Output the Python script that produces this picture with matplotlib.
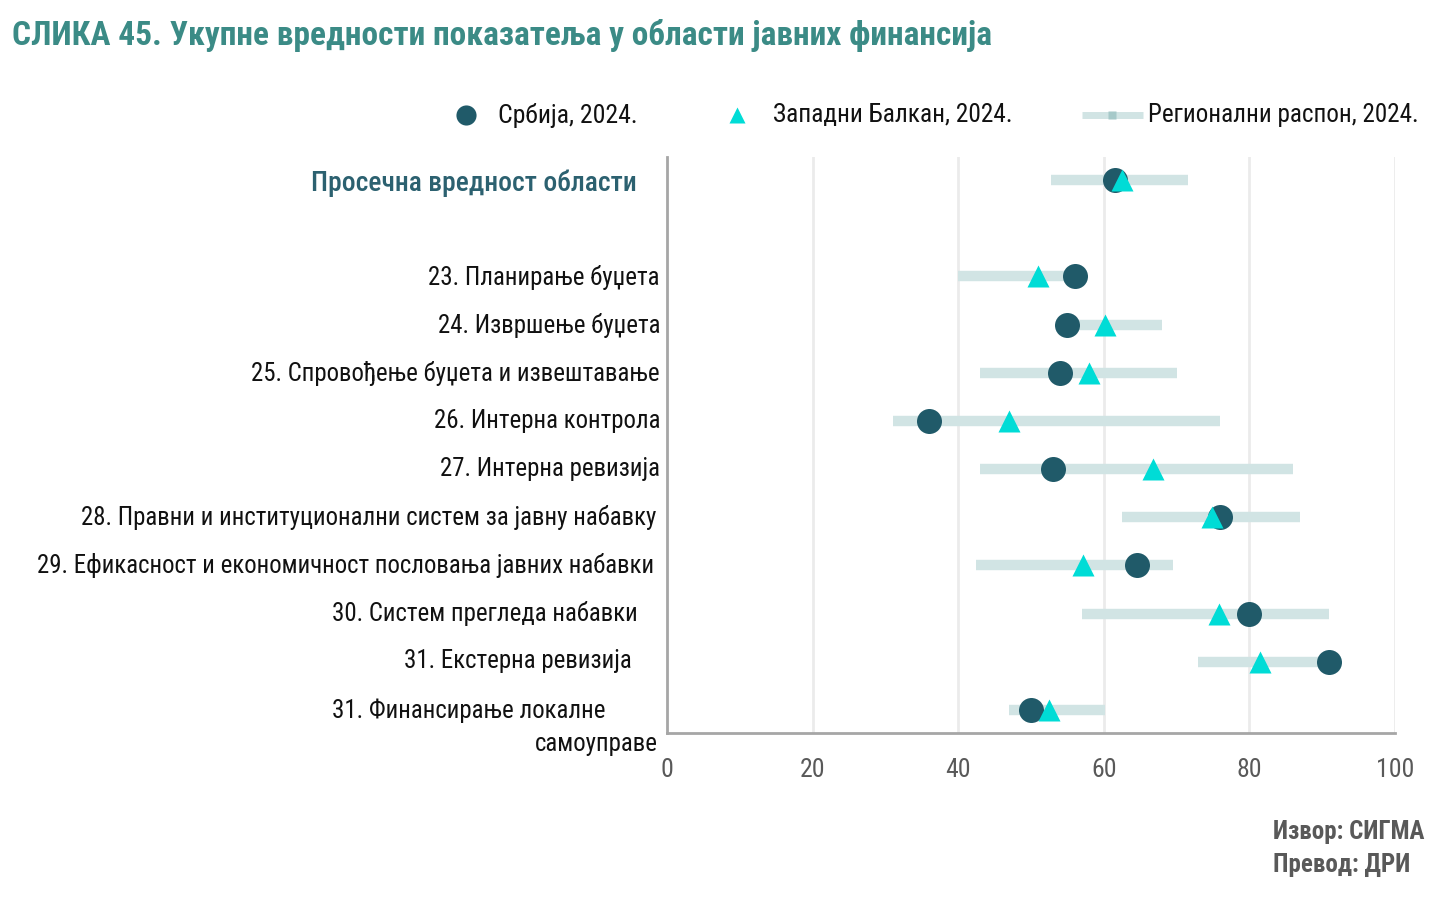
import matplotlib
matplotlib.use("Agg")
import matplotlib.pyplot as plt
from matplotlib import font_manager
from matplotlib.lines import Line2D

names = {f.name for f in font_manager.fontManager.ttflist}
FONT = None
for cand in ["Liberation Sans Narrow", "Roboto Condensed", "Open Sans Condensed", "DejaVu Sans Condensed", "Liberation Sans"]:
    if cand in names:
        FONT = cand
        break
plt.rcParams['font.family'] = [FONT, 'DejaVu Sans']

# ---------------- data ----------------
categories = [
    "23. Планирање буџета",
    "24. Извршење буџета",
    "25. Спровођење буџета и извештавање",
    "26. Интерна контрола",
    "27. Интерна ревизија",
    "28. Правни и институционални систем за јавну набавку",
    "29. Ефикасност и економичност пословања јавних набавки",
    "30. Систем прегледа набавки",
    "31. Екстерна ревизија",
    "31. Финансирање локалне\nсамоуправе",
]
avg_label = "Просечна вредност области"

serbia = [56.0, 55.0, 54.0, 36.0, 53.0, 76.0, 64.5, 80.0, 91.0, 50.0]
western_balkans = [51.0, 60.2, 58.0, 47.0, 66.8, 74.8, 57.2, 75.8, 81.5, 52.5]
range_min = [40.0, 55.0, 43.0, 31.0, 43.0, 62.5, 42.5, 57.0, 73.0, 47.0]
range_max = [55.5, 68.0, 70.0, 76.0, 86.0, 87.0, 69.5, 91.0, 90.0, 60.2]

avg_serbia = 61.5
avg_wb = 62.5
avg_min = 52.7
avg_max = 71.6

x_ticks = [0, 20, 40, 60, 80, 100]

# ---------------- style ----------------
C_SER = "#205a69"
C_WB = "#00dcd6"
C_RNG = "#d1e4e4"
C_TITLE = "#3b8b86"
C_AVG = "#2c6170"
C_GRAY = "#595959"

W, H = 1447, 905
fig = plt.figure(figsize=(W / 100, H / 100), dpi=100)
ax = fig.add_axes([667 / W, 1 - 733 / H, (1395 - 667) / W, (733 - 157) / H])

ypos = [2 + i for i in range(len(categories))]
avg_y = 0

# ranges
for y, lo, hi in zip(ypos, range_min, range_max):
    ax.plot([lo, hi], [y, y], color=C_RNG, lw=7.5, solid_capstyle='butt', zorder=2)
ax.plot([avg_min, avg_max], [avg_y, avg_y], color=C_RNG, lw=7.5, solid_capstyle='butt', zorder=2)

ax.plot(serbia, ypos, 'o', color=C_SER, ms=18, mec='none', zorder=3)
ax.plot([avg_serbia], [avg_y], 'o', color=C_SER, ms=18, mec='none', zorder=3)
ax.plot(western_balkans, ypos, '^', color=C_WB, ms=16, mec='none', zorder=4)
ax.plot([avg_wb], [avg_y], '^', color=C_WB, ms=16, mec='none', zorder=4)

ax.set_xlim(0, 100)
ax.set_ylim(11.48, -0.48)
ax.set_xticks(x_ticks)
ax.set_xticklabels([str(t) for t in x_ticks], fontsize=18.5, color=C_GRAY)
ax.tick_params(axis='x', length=0, pad=18)
ax.set_yticks([])
for t in x_ticks[1:]:
    ax.axvline(t, color="#ebebeb", lw=2, zorder=0)
for s in ["top", "right"]:
    ax.spines[s].set_visible(False)
ax.spines["left"].set_color("#a6a6a6")
ax.spines["left"].set_linewidth(2)
ax.spines["bottom"].set_color("#a6a6a6")
ax.spines["bottom"].set_linewidth(2)

# category labels (right edge offsets in pixels)
LFS = 17.9
label_right = [660, 660, 660, 660, 660, 656, 654, 638, 632, 658]
for lab, y, r in zip(categories, ypos, label_right):
    yp = 181 + (y) * 48
    if "\n" in lab:
        l1, l2 = lab.split("\n")
        fig.text(605 / W, 1 - 711 / H, l1, ha='right', va='center', fontsize=LFS, color='#111111')
        fig.text(658 / W, 1 - 744 / H, l2, ha='right', va='center', fontsize=LFS, color='#111111')
    else:
        fig.text(r / W, 1 - yp / H, lab, ha='right', va='center', fontsize=LFS, color='#111111')
fig.text(637 / W, 1 - 183 / H, avg_label, ha='right', va='center', fontsize=19.9, color=C_AVG,
         fontweight='medium')

# title
fig.text(12 / W, 1 - 35 / H, "СЛИКА 45. Укупне вредности показатеља у области јавних финансија",
         ha='left', va='center', fontsize=24.0, color=C_TITLE, fontweight='bold')

# legend (manual)
ly = 1 - 115 / H
fig.add_artist(Line2D([466 / W], [ly], transform=fig.transFigure, marker='o', color=C_SER, ms=14.5, mec='none', ls='none'))
fig.text(498 / W, ly, "Србија, 2024.", ha='left', va='center', fontsize=18.5, color='#111111')
fig.add_artist(Line2D([737 / W], [ly], transform=fig.transFigure, marker='^', color=C_WB, ms=12, mec='none', ls='none'))
fig.text(773 / W, ly, "Западни Балкан, 2024.", ha='left', va='center', fontsize=18.3, color='#111111')
fig.add_artist(Line2D([1082 / W, 1143 / W], [ly, ly], transform=fig.transFigure, color=C_RNG, lw=5, solid_capstyle='butt'))
fig.add_artist(Line2D([1112 / W], [ly], transform=fig.transFigure, marker='s', color="#a6c9c9", ms=6, mec='none', ls='none'))
fig.text(1148 / W, ly, "Регионални распон, 2024.", ha='left', va='center', fontsize=18.1, color='#111111')

# source
fig.text(1273 / W, 1 - 832 / H, "Извор: СИГМА", ha='left', va='center', fontsize=18, color=C_GRAY, fontweight='bold')
fig.text(1273 / W, 1 - 865 / H, "Превод: ДРИ", ha='left', va='center', fontsize=18, color=C_GRAY, fontweight='bold')

fig.savefig("out.png", dpi=100, facecolor='white')
